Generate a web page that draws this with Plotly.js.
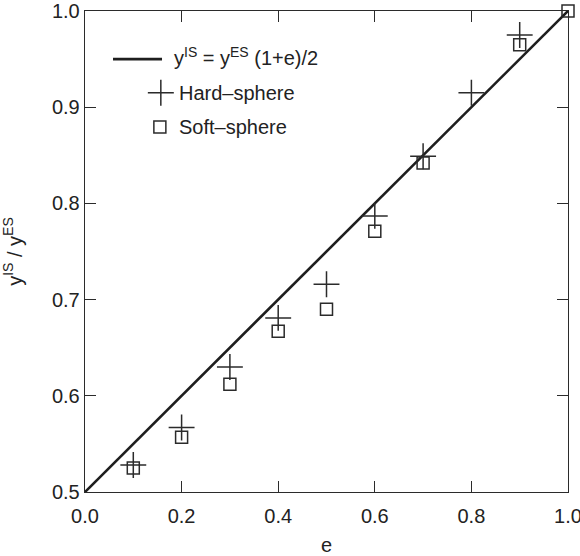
<!DOCTYPE html>
<html>
<head>
<meta charset="utf-8">
<script src="https://cdn.plot.ly/plotly-3.0.1.min.js"></script>
<style>html,body{margin:0;padding:0;background:#fff;}#chart{width:580px;height:556px;}</style>
</head>
<body>
<div id="chart"></div>
<script>
// Theory line y_IS = y_ES (1+e)/2
const eLine = [0.0, 1.0];
const yLine = [0.5, 1.0];
// Hard-sphere simulation
const eHard = [0.1, 0.2, 0.3, 0.4, 0.5, 0.6, 0.7, 0.8, 0.9];
const yHard = [0.528, 0.567, 0.630, 0.681, 0.716, 0.787, 0.849, 0.915, 0.975];
// Soft-sphere simulation
const eSoft = [0.1, 0.2, 0.3, 0.4, 0.5, 0.6, 0.7, 0.9, 1.0];
const ySoft = [0.525, 0.557, 0.612, 0.667, 0.690, 0.771, 0.842, 0.965, 1.0];
// Legend labels
const legendLabels = ["y<sup>IS</sup> = y<sup>ES</sup> (1+e)/2", "Hard\u2013sphere", "Soft\u2013sphere"];
const xTickVals = [0, 0.2, 0.4, 0.6, 0.8, 1.0];
const yTickVals = [0.5, 0.6, 0.7, 0.8, 0.9, 1.0];

const font = {family: "Liberation Sans, Arial, sans-serif", size: 20, color: "#222"};
const ink = "#2b2b2b";

const traces = [
  {x: eLine, y: yLine, mode: "lines", line: {color: "#1e1e1e", width: 2.6}, showlegend: false, cliponaxis: false},
  {x: eHard, y: yHard, mode: "markers", cliponaxis: false, showlegend: false,
   marker: {symbol: "cross-thin-open", size: 18.5, color: ink, line: {color: ink, width: 1.5}}},
  {x: eSoft, y: ySoft, mode: "markers", cliponaxis: false, showlegend: false,
   marker: {symbol: "square-open", size: 12, color: ink, line: {color: ink, width: 1.5}}}
];

const axisCommon = {
  showline: true, mirror: "ticks", linecolor: ink, linewidth: 1.3,
  ticks: "inside", ticklen: 11, tickwidth: 1.3, tickcolor: ink,
  showgrid: false, zeroline: false, tickformat: ".1f", tickfont: font,
  ticklabeloverflow: "allow"
};

const pix = (cx, cy, x0, y0, x1, y1) => ({xref: "paper", yref: "paper", xsizemode: "pixel", ysizemode: "pixel",
  xanchor: cx, yanchor: cy, x0: x0, x1: x1, y0: y0, y1: y1});

const layout = {
  width: 580, height: 556,
  margin: {l: 85, r: 12, t: 11, b: 64},
  paper_bgcolor: "#fff", plot_bgcolor: "#fff",
  font: font,
  showlegend: false,
  xaxis: Object.assign({}, axisCommon, {range: [0, 1], tickvals: xTickVals, ticklabelstandoff: 6,
    title: {text: "e", font: font, standoff: 12}}),
  yaxis: Object.assign({}, axisCommon, {range: [0.5, 1], tickvals: yTickVals,
    title: {text: "y<sup>IS</sup> / y<sup>ES</sup>", font: font, standoff: 24}}),
  shapes: [
    Object.assign({type: "line", line: {color: "#1e1e1e", width: 2.6}}, pix(0.058, 0.900, 0, 0, 49, 0)),
    Object.assign({type: "line", line: {color: ink, width: 1.5}}, pix(0.157, 0.830, -13, 0, 13, 0)),
    Object.assign({type: "line", line: {color: ink, width: 1.5}}, pix(0.157, 0.830, 0, -13, 0, 13)),
    Object.assign({type: "rect", line: {color: ink, width: 1.5}}, pix(0.155, 0.759, -6, -6, 6, 6))
  ],
  annotations: [
    {xref: "paper", yref: "paper", x: 0.180, y: 0.905, xanchor: "left", yanchor: "middle", text: legendLabels[0], showarrow: false, font: font},
    {xref: "paper", yref: "paper", x: 0.190, y: 0.830, xanchor: "left", yanchor: "middle", text: legendLabels[1], showarrow: false, font: font},
    {xref: "paper", yref: "paper", x: 0.190, y: 0.759, xanchor: "left", yanchor: "middle", text: legendLabels[2], showarrow: false, font: font}
  ]
};

Plotly.newPlot("chart", traces, layout, {displayModeBar: false, staticPlot: true});
</script>
</body>
</html>
